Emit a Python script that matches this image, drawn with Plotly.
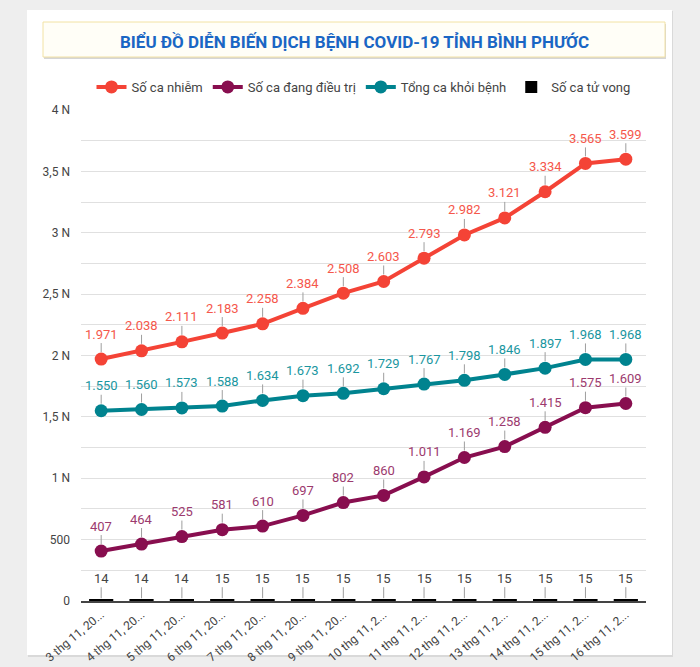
import plotly.graph_objects as go

categories = ["3 thg 11, 20...", "4 thg 11, 20...", "5 thg 11, 20...", "6 thg 11, 20...",
              "7 thg 11, 20...", "8 thg 11, 20...", "9 thg 11, 20...", "10 thg 11, 2...",
              "11 thg 11, 2...", "12 thg 11, 2...", "13 thg 11, 2...", "14 thg 11, 2...",
              "15 thg 11, 2...", "16 thg 11, 2..."]
infected = [1971, 2038, 2111, 2183, 2258, 2384, 2508, 2603, 2793, 2982, 3121, 3334, 3565, 3599]
treating = [407, 464, 525, 581, 610, 697, 802, 860, 1011, 1169, 1258, 1415, 1575, 1609]
recovered = [1550, 1560, 1573, 1588, 1634, 1673, 1692, 1729, 1767, 1798, 1846, 1897, 1968, 1968]
deaths = [14, 14, 14, 15, 15, 15, 15, 15, 15, 15, 15, 15, 15, 15]

ytick_vals = [0, 500, 1000, 1500, 2000, 2500, 3000, 3500, 4000]
ytick_text = ["0", "500", "1 N", "1,5 N", "2 N", "2,5 N", "3 N", "3,5 N", "4 N"]

title_text = "BIỂU ĐỒ DIỄN BIẾN DỊCH BỆNH COVID-19 TỈNH BÌNH PHƯỚC"

W, H = 700, 667
L, R, T, B = 81, 54, 110, 66
PW, PH = W - L - R, H - T - B


def px_x(x):
    return (x - L) / PW


def px_y(y):
    return (H - B - y) / PH


def fmt(v):
    return f"{v:,}".replace(",", ".")


series = [
    ("Số ca nhiễm", infected, "#f44336", "#f5574b"),
    ("Số ca đang điều trị", treating, "#880e4f", "#9c3a6e"),
    ("Tổng ca khỏi bệnh", recovered, "#00838f", "#1a96a0"),
]

fig = go.Figure()
annotations = []
for name, vals, col, lcol in series:
    fig.add_trace(go.Scatter(
        x=categories, y=vals, name=name, mode="lines+markers",
        line=dict(color=col, width=4), marker=dict(color=col, size=13),
    ))
    for c, v in zip(categories, vals):
        annotations.append(dict(
            x=c, y=v, xref="x", yref="y", text=fmt(v), showarrow=True,
            ax=0, ay=-25, arrowhead=0, arrowwidth=1, arrowcolor="#9e9e9e",
            standoff=7, font=dict(family="Roboto", size=13, color=lcol),
        ))

fig.add_trace(go.Bar(
    x=categories, y=deaths, name="Số ca tử vong", marker=dict(color="#000000", line=dict(width=0)),
    width=0.6,
))
for c, v in zip(categories, deaths):
    annotations.append(dict(
        x=c, y=v, xref="x", yref="y", text=fmt(v), showarrow=True,
        ax=0, ay=-21, arrowhead=0, arrowwidth=1, arrowcolor="#9e9e9e",
        standoff=1, font=dict(family="Roboto", size=13, color="#444444"),
    ))

annotations.append(dict(
    x=px_x(354), y=px_y(41), xref="paper", yref="paper", text="<b>" + title_text + "</b>",
    showarrow=False, xanchor="center", yanchor="middle",
    font=dict(family="Roboto", size=17, color="#1a66c4"),
))

shapes = [
    # card shadow
    dict(type="rect", xref="paper", yref="paper", x0=px_x(28), x1=px_x(673), y0=px_y(11), y1=px_y(657),
         fillcolor="#d9d9d9", line=dict(width=0), layer="below"),
    # card
    dict(type="rect", xref="paper", yref="paper", x0=px_x(27), x1=px_x(672), y0=px_y(10), y1=px_y(655),
         fillcolor="#ffffff", line=dict(width=0), layer="below"),
    # title box shadow
    dict(type="rect", xref="paper", yref="paper", x0=px_x(44), x1=px_x(666), y0=px_y(24), y1=px_y(59),
         fillcolor="#d6d6d6", line=dict(width=0), layer="below"),
    # title box
    dict(type="rect", xref="paper", yref="paper", x0=px_x(43), x1=px_x(665), y0=px_y(22), y1=px_y(57),
         fillcolor="#fffef7", line=dict(width=1, color="#f2e2a4"), layer="below"),
]

fig.update_layout(
    width=W, height=H,
    margin=dict(l=L, r=R, t=T, b=B, autoexpand=False),
    paper_bgcolor="#eeeeee", plot_bgcolor="#ffffff",
    font=dict(family="Roboto", size=12, color="#444444"),
    showlegend=True,
    legend=dict(orientation="h", x=0.5, xanchor="center", y=px_y(87), yanchor="middle",
                font=dict(family="Roboto", size=13, color="#444444"), bgcolor="rgba(0,0,0,0)",
                itemwidth=30, tracegroupgap=0),
    annotations=annotations,
    shapes=shapes,
    bargap=0.4,
)
fig.update_xaxes(type="category", range=[-0.5, 13.5], tickangle=-40, showgrid=False,
                 showline=True, linecolor="#444444", linewidth=2, ticks="", automargin=False,
                 tickfont=dict(family="Roboto", size=12, color="#444444"))
fig.update_yaxes(range=[0, 4000], tickmode="array", tickvals=ytick_vals, ticktext=ytick_text,
                 showgrid=True, gridcolor="#e0e0e0", gridwidth=1, zeroline=False,
                 ticks="", ticklabelstandoff=10, automargin=False,
                 minor=dict(tickmode="array", tickvals=[250, 750, 1250, 1750, 2250, 2750, 3250, 3750],
                            showgrid=True, gridcolor="#e0e0e0", gridwidth=1, ticks=""),
                 tickfont=dict(family="Roboto", size=12, color="#444444"))

fig.write_html("out.html", config={"displayModeBar": False},
               post_script="document.body.style.margin='0';document.body.style.padding='0';"
                           "document.body.style.background='#eeeeee';")
